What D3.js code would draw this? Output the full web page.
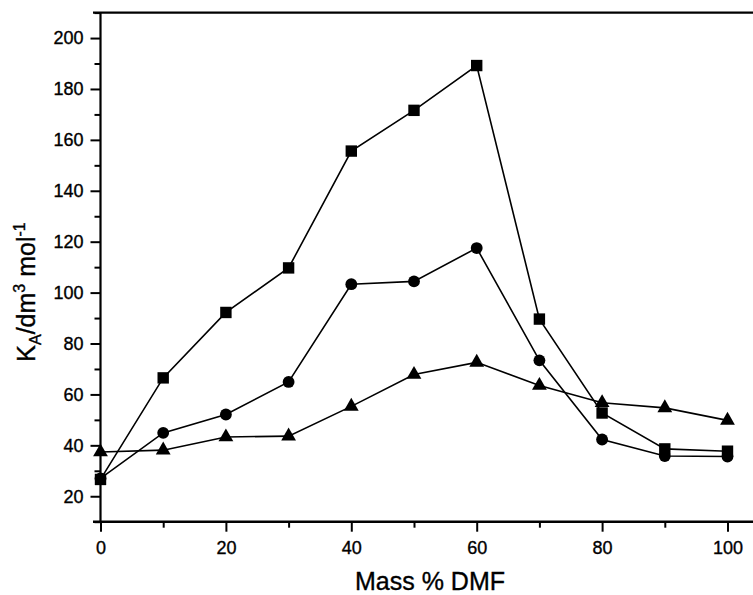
<!DOCTYPE html>
<html>
<head>
  <meta charset="utf-8">
  <title>KA vs Mass % DMF</title>
  <script src="https://cdn.jsdelivr.net/npm/d3@7"></script>
  <style>
    body { margin: 0; background: #fff; }
    text { font-family: "Liberation Sans", Arial, sans-serif; fill: #000; stroke: #000; stroke-width: 0.35px; }
  </style>
</head>
<body>
<script>
  // size of the page
  const w = 753;
  const h = 595;

  // data
  const massDMF = [0, 10, 20, 30, 40, 50, 60, 70, 80, 90, 100];
  const squares = [26.6, 66.5, 92.2, 109.7, 155.6, 171.6, 189.2, 89.6, 52.7, 38.6, 37.7];
  const circles = [27.0, 44.9, 52.1, 64.9, 103.3, 104.4, 117.5, 73.4, 42.3, 35.8, 35.6];
  const triangles = [37.4, 38.1, 43.3, 43.6, 55.3, 67.8, 72.6, 63.5, 56.7, 54.7, 49.8];

  const xTicks = [0, 20, 40, 60, 80, 100];
  const xMinor = [10, 30, 50, 70, 90];
  const yTicks = [20, 40, 60, 80, 100, 120, 140, 160, 180, 200];
  const yMinor = [10, 30, 50, 70, 90, 110, 130, 150, 170, 190, 210];

  // scales
  const xScale = d3.scaleLinear().domain([0, 100]).range([100.5, 727.5]);
  const yScale = d3.scaleLinear().domain([10, 210]).range([521.7, 12.6]);

  const svg = d3.select("body").append("svg")
    .attr("width", w)
    .attr("height", h);

  // x axis (bottom), runs off the right edge like the scan
  const xAxis = svg.append("g").attr("transform", "translate(0," + yScale(10) + ")");
  xAxis.call(d3.axisBottom(xScale).tickValues(xTicks).tickSize(10).tickPadding(10).tickFormat(d3.format("d")));
  xAxis.append("g").call(d3.axisBottom(xScale).tickValues(xMinor).tickSize(6).tickFormat(""));
  xAxis.selectAll(".domain").remove();
  xAxis.selectAll("line").attr("stroke", "#000").attr("stroke-width", 2);
  xAxis.selectAll("text").style("font-size", "18px").attr("fill", "#000");
  xAxis.append("line")
    .attr("x1", 93).attr("x2", w + 5)
    .attr("stroke", "#000").attr("stroke-width", 2.6);

  // top line
  svg.append("line")
    .attr("x1", 93).attr("x2", w + 5)
    .attr("y1", yScale(210)).attr("y2", yScale(210))
    .attr("stroke", "#000").attr("stroke-width", 2.2);

  // y axis
  const yAxis = svg.append("g").attr("transform", "translate(" + xScale(0) + ",0)");
  yAxis.call(d3.axisLeft(yScale).tickValues(yTicks).tickSize(10).tickPadding(7).tickFormat(d3.format("d")));
  yAxis.append("g").call(d3.axisLeft(yScale).tickValues(yMinor).tickSize(6).tickFormat(""));
  yAxis.selectAll(".domain").remove();
  yAxis.selectAll("line").attr("stroke", "#000").attr("stroke-width", 2);
  yAxis.selectAll("text").style("font-size", "18px").attr("fill", "#000");
  yAxis.append("line")
    .attr("y1", yScale(210)).attr("y2", yScale(10) + 1)
    .attr("stroke", "#000").attr("stroke-width", 2.2);

  // axis titles
  svg.append("text")
    .attr("x", 430)
    .attr("y", 590)
    .attr("text-anchor", "middle")
    .style("font-size", "25px")
    .text("Mass % DMF");

  const yTitle = svg.append("text")
    .attr("transform", "translate(35,292) rotate(-90)")
    .attr("text-anchor", "middle")
    .style("font-size", "25px");
  yTitle.append("tspan").text("K");
  yTitle.append("tspan").attr("dy", 6).style("font-size", "16px").text("A");
  yTitle.append("tspan").attr("dy", -6).text("/dm");
  yTitle.append("tspan").attr("dy", -10).style("font-size", "16px").text("3");
  yTitle.append("tspan").attr("dy", 10).text(" mol");
  yTitle.append("tspan").attr("dy", -10).style("font-size", "16px").text("-1");

  // lines
  const line = d3.line()
    .x(function (d) { return xScale(d[0]); })
    .y(function (d) { return yScale(d[1]); });

  const series = [
    { name: "triangles", values: triangles, shape: d3.symbolTriangle, size: 95 },
    { name: "circles", values: circles, shape: d3.symbolCircle, size: 110 },
    { name: "squares", values: squares, shape: d3.symbolSquare, size: 130 }
  ];

  series.forEach(function (s) {
    const pts = massDMF.map(function (m, i) { return [m, s.values[i]]; });
    svg.append("path")
      .datum(pts)
      .attr("fill", "none")
      .attr("stroke", "#000")
      .attr("stroke-width", 1.6)
      .attr("d", line);
  });

  series.forEach(function (s) {
    const pts = massDMF.map(function (m, i) { return [m, s.values[i]]; });
    svg.append("g").selectAll("path")
      .data(pts)
      .enter()
      .append("path")
      .attr("transform", function (d) { return "translate(" + xScale(d[0]) + "," + yScale(d[1]) + ")"; })
      .attr("d", d3.symbol().type(s.shape).size(s.size))
      .attr("fill", "#000");
  });
</script>
</body>
</html>
